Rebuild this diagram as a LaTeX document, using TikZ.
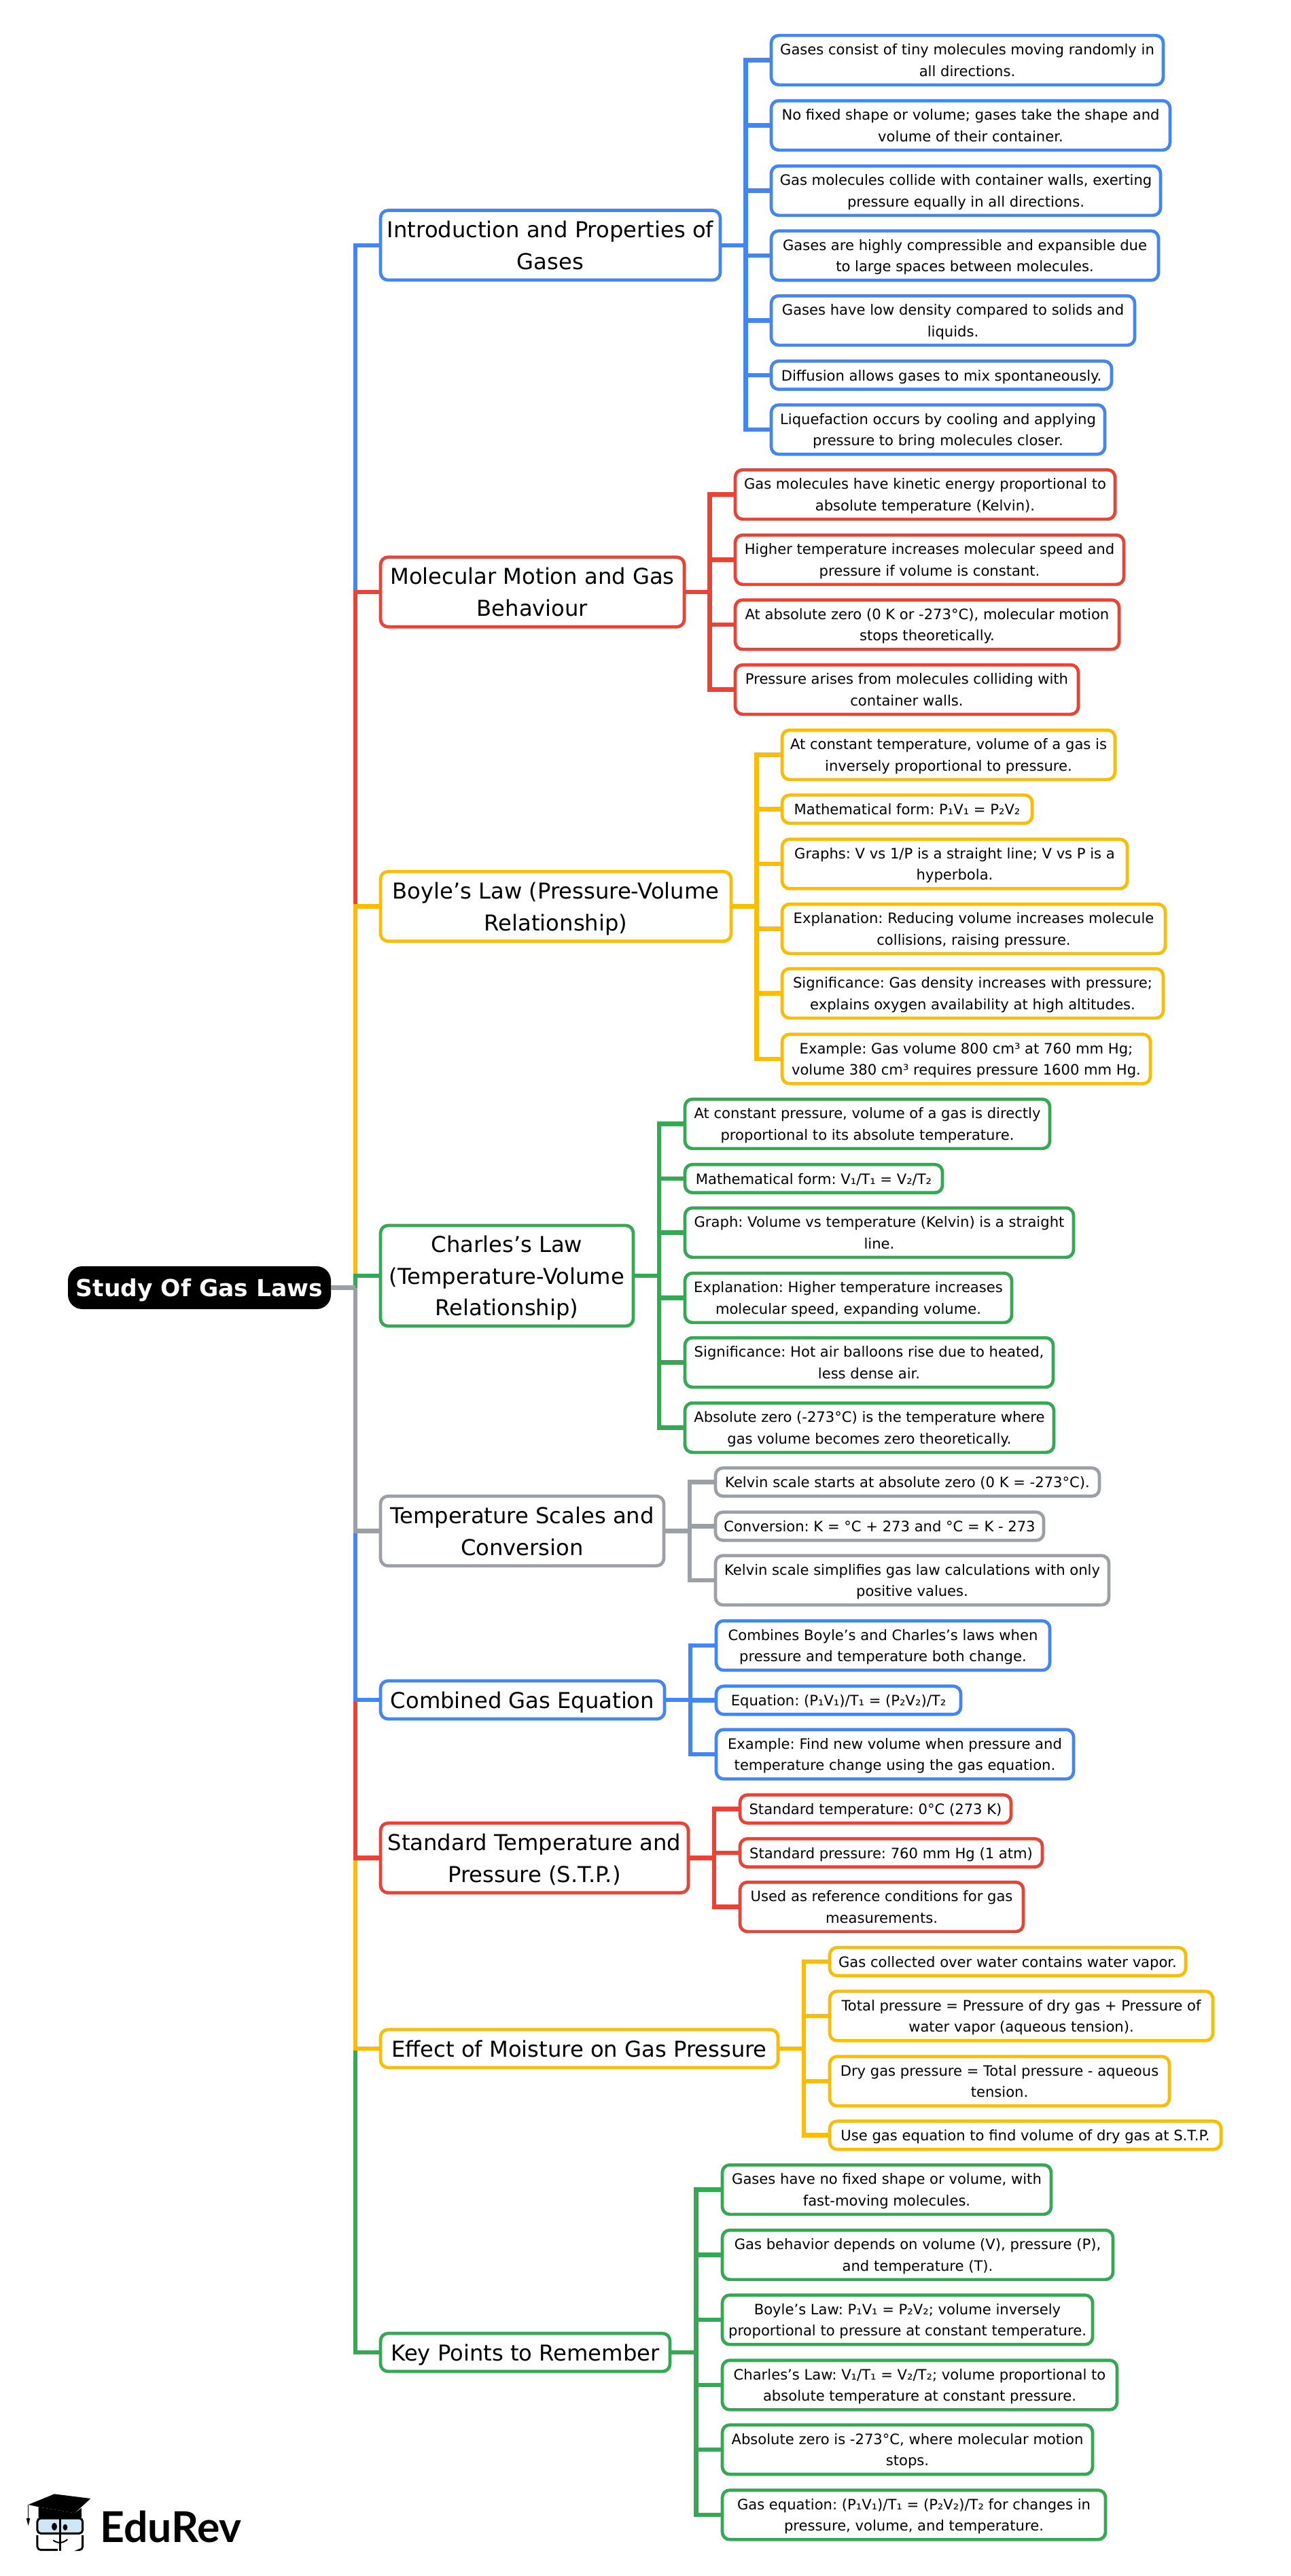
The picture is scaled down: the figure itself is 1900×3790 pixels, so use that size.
\documentclass[tikz,border=0pt]{standalone}
\usepackage{fontspec}
\setmainfont{DejaVu Sans}
\newfontfamily\logofont{Lato}
\usetikzlibrary{calc,positioning}
\frenchspacing

\definecolor{gasblue}{HTML}{4285F4}
\definecolor{gasred}{HTML}{EA4335}
\definecolor{gasyellow}{HTML}{FBBC04}
\definecolor{gasgreen}{HTML}{34A853}
\definecolor{gasgrey}{HTML}{9AA0A6}
\definecolor{gasglass}{HTML}{CFE6F7}

\tikzset{
    rootnode/.style={fill=black, text=white, rounded corners=21pt, inner sep=0pt, minimum height=63pt, text depth=0pt,
        font=\fontsize{34.5}{36}\selectfont\bfseries},
    branch/.style={draw, fill=white, line width=4.7pt, rounded corners=11pt, align=center, inner sep=0pt, text depth=0pt,
        text=black, font=\fontsize{32.2}{46.7}\selectfont},
    leaf/.style={draw, fill=white, line width=4.7pt, rounded corners=11pt, align=center, inner sep=0pt, text depth=0pt,
        text=black, minimum height=41.5pt, font=\fontsize{21.1}{31.5}\selectfont},
    tall/.style={minimum height=72.7pt},
    wire/.style={line width=6.5pt},
    elbow/.style={to path={(\tikztostart.east) -| ($(\tikztostart.east)!0.5!(\tikztotarget.west)$) |- (\tikztotarget.west)}}
}

\begin{document}
\begin{tikzpicture}[x=1pt, y=-1pt]
    \useasboundingbox (0,0) rectangle (1900,3790);

    % Root and branches
    \node [rootnode, minimum width=387pt] (root) at (293.5,1894.5) {Study Of Gas Laws};
    \coordinate [right=36pt of root] (hub);

    \node [branch, draw=gasblue, minimum width=500pt, minimum height=102.5pt] (intro) at (810,360.8) {Introduction and Properties of\\Gases};
    \node [branch, draw=gasred, minimum width=447pt, minimum height=102.5pt] (motion) at (783.5,871) {Molecular Motion and Gas\\Behaviour};
    \node [branch, draw=gasyellow, minimum width=516pt, minimum height=102.5pt] (boyle) at (818,1333.5) {Boyle’s Law (Pressure-Volume\\Relationship)};
    \node [branch, draw=gasgreen, minimum width=372pt, minimum height=148pt] (charles) at (746,1877) {Charles’s Law\\(Temperature-Volume\\Relationship)};
    \node [branch, draw=gasgrey, minimum width=417pt, minimum height=102.5pt] (scales) at (768.5,2252.5) {Temperature Scales and\\Conversion};
    \node [branch, draw=gasblue, minimum width=418pt, minimum height=56pt] (combined) at (769,2501) {Combined Gas Equation};
    \node [branch, draw=gasred, minimum width=453pt, minimum height=102.5pt] (stp) at (786.5,2733.5) {Standard Temperature and\\Pressure (S.T.P.)};
    \node [branch, draw=gasyellow, minimum width=585pt, minimum height=56pt] (moisture) at (852.5,3014) {Effect of Moisture on Gas Pressure};
    \node [branch, draw=gasgreen, minimum width=426pt, minimum height=56pt] (keypoints) at (773,3461) {Key Points to Remember};

    % Introduction leaves
    \node [leaf, tall, draw=gasblue, minimum width=577pt] (i1) at (1423.5,88.5) {Gases consist of tiny molecules moving randomly in\\all directions.};
    \node [leaf, tall, draw=gasblue, minimum width=587pt] (i2) at (1428.5,184.5) {No fixed shape or volume; gases take the shape and\\volume of their container.};
    \node [leaf, tall, draw=gasblue, minimum width=573pt] (i3) at (1421.5,280.5) {Gas molecules collide with container walls, exerting\\pressure equally in all directions.};
    \node [leaf, tall, draw=gasblue, minimum width=570pt] (i4) at (1420,376) {Gases are highly compressible and expansible due\\to large spaces between molecules.};
    \node [leaf, tall, draw=gasblue, minimum width=535pt] (i5) at (1402.5,471.5) {Gases have low density compared to solids and\\liquids.};
    \node [leaf, draw=gasblue, minimum width=501pt] (i6) at (1385.5,552) {Diffusion allows gases to mix spontaneously.};
    \node [leaf, tall, draw=gasblue, minimum width=491pt] (i7) at (1380.5,632) {Liquefaction occurs by cooling and applying\\pressure to bring molecules closer.};

    % Molecular motion leaves
    \node [leaf, tall, draw=gasred, minimum width=559pt] (m1) at (1361.5,727.5) {Gas molecules have kinetic energy proportional to\\absolute temperature (Kelvin).};
    \node [leaf, tall, draw=gasred, minimum width=572pt] (m2) at (1368,823.5) {Higher temperature increases molecular speed and\\pressure if volume is constant.};
    \node [leaf, tall, draw=gasred, minimum width=565pt] (m3) at (1364.5,919) {At absolute zero (0 K or -273°C), molecular motion\\stops theoretically.};
    \node [leaf, tall, draw=gasred, minimum width=505pt] (m4) at (1334.5,1014.5) {Pressure arises from molecules colliding with\\container walls.};

    % Boyle leaves
    \node [leaf, tall, draw=gasyellow, minimum width=490pt] (b1) at (1396,1110.5) {At constant temperature, volume of a gas is\\inversely proportional to pressure.};
    \node [leaf, draw=gasyellow, minimum width=368pt] (b2) at (1335,1190.5) {Mathematical form: P₁V₁ = P₂V₂};
    \node [leaf, tall, draw=gasyellow, minimum width=508pt] (b3) at (1405,1271) {Graphs: V vs 1/P is a straight line; V vs P is a\\hyperbola.};
    \node [leaf, tall, draw=gasyellow, minimum width=564pt] (b4) at (1433,1366.5) {Explanation: Reducing volume increases molecule\\collisions, raising pressure.};
    \node [leaf, tall, draw=gasyellow, minimum width=561pt] (b5) at (1431.5,1461.5) {Significance: Gas density increases with pressure;\\explains oxygen availability at high altitudes.};
    \node [leaf, tall, draw=gasyellow, minimum width=542pt] (b6) at (1422,1558) {Example: Gas volume 800 cm³ at 760 mm Hg;\\volume 380 cm³ requires pressure 1600 mm Hg.};

    % Charles leaves
    \node [leaf, tall, draw=gasgreen, minimum width=537pt] (c1) at (1276.5,1653.5) {At constant pressure, volume of a gas is directly\\proportional to its absolute temperature.};
    \node [leaf, draw=gasgreen, minimum width=379pt] (c2) at (1197.5,1734) {Mathematical form: V₁/T₁ = V₂/T₂};
    \node [leaf, tall, draw=gasgreen, minimum width=572pt] (c3) at (1294,1813.5) {Graph: Volume vs temperature (Kelvin) is a straight\\line.};
    \node [leaf, tall, draw=gasgreen, minimum width=481pt] (c4) at (1248.5,1909.5) {Explanation: Higher temperature increases\\molecular speed, expanding volume.};
    \node [leaf, tall, draw=gasgreen, minimum width=542pt] (c5) at (1279,2004.5) {Significance: Hot air balloons rise due to heated,\\less dense air.};
    \node [leaf, tall, draw=gasgreen, minimum width=543pt] (c6) at (1279.5,2100.5) {Absolute zero (-273°C) is the temperature where\\gas volume becomes zero theoretically.};

    % Temperature scale leaves
    \node [leaf, draw=gasgrey, minimum width=565pt] (t1) at (1335.5,2180.5) {Kelvin scale starts at absolute zero (0 K = -273°C).};
    \node [leaf, draw=gasgrey, minimum width=483pt] (t2) at (1294.5,2245.5) {Conversion: K = °C + 273 and °C = K - 273};
    \node [leaf, tall, draw=gasgrey, minimum width=579pt] (t3) at (1342.5,2325) {Kelvin scale simplifies gas law calculations with only\\positive values.};

    % Combined equation leaves
    \node [leaf, tall, draw=gasblue, minimum width=491pt] (e1) at (1299.5,2421) {Combines Boyle’s and Charles’s laws when\\pressure and temperature both change.};
    \node [leaf, draw=gasblue, minimum width=360pt] (e2) at (1234,2501.5) {Equation: (P₁V₁)/T₁ = (P₂V₂)/T₂};
    \node [leaf, tall, draw=gasblue, minimum width=526pt] (e3) at (1317,2581) {Example: Find new volume when pressure and\\temperature change using the gas equation.};

    % S.T.P. leaves
    \node [leaf, draw=gasred, minimum width=399pt] (s1) at (1288.5,2661.5) {Standard temperature: 0°C (273 K)};
    \node [leaf, draw=gasred, minimum width=445pt] (s2) at (1311.5,2726) {Standard pressure: 760 mm Hg (1 atm)};
    \node [leaf, tall, draw=gasred, minimum width=417pt] (s3) at (1297.5,2805.5) {Used as reference conditions for gas\\measurements.};

    % Moisture leaves
    \node [leaf, draw=gasyellow, minimum width=524pt] (d1) at (1483,2886) {Gas collected over water contains water vapor.};
    \node [leaf, tall, draw=gasyellow, minimum width=564pt] (d2) at (1503,2966) {Total pressure = Pressure of dry gas + Pressure of\\water vapor (aqueous tension).};
    \node [leaf, tall, draw=gasyellow, minimum width=500pt] (d3) at (1471,3062) {Dry gas pressure = Total pressure - aqueous\\tension.};
    \node [leaf, draw=gasyellow, minimum width=576pt] (d4) at (1509,3141.5) {Use gas equation to find volume of dry gas at S.T.P.};

    % Key point leaves
    \node [leaf, tall, draw=gasgreen, minimum width=484pt] (k1) at (1305,3221.5) {Gases have no fixed shape or volume, with\\fast-moving molecules.};
    \node [leaf, tall, draw=gasgreen, minimum width=575pt] (k2) at (1350.5,3317.5) {Gas behavior depends on volume (V), pressure (P),\\and temperature (T).};
    \node [leaf, tall, draw=gasgreen, minimum width=545pt] (k3) at (1335.5,3413) {Boyle’s Law: P₁V₁ = P₂V₂; volume inversely\\proportional to pressure at constant temperature.};
    \node [leaf, tall, draw=gasgreen, minimum width=581pt] (k4) at (1353.5,3509) {Charles’s Law: V₁/T₁ = V₂/T₂; volume proportional to\\absolute temperature at constant pressure.};
    \node [leaf, tall, draw=gasgreen, minimum width=545pt] (k5) at (1335.5,3604) {Absolute zero is -273°C, where molecular motion\\stops.};
    \node [leaf, tall, draw=gasgreen, minimum width=564pt] (k6) at (1345,3700) {Gas equation: (P₁V₁)/T₁ = (P₂V₂)/T₂ for changes in\\pressure, volume, and temperature.};

    % Main trunk, outermost branch first
    \draw [wire, gasblue]   (motion.west -| hub) |- (intro.west);
    \draw [wire, gasred]    (boyle.west -| hub) |- (motion.west);
    \draw [wire, gasyellow] (charles.west -| hub) |- (boyle.west);
    \draw [wire, gasgreen]  (hub) |- (charles.west);
    \draw [wire, gasgreen]  (moisture.west -| hub) |- (keypoints.west);
    \draw [wire, gasyellow] (stp.west -| hub) |- (moisture.west);
    \draw [wire, gasred]    (combined.west -| hub) |- (stp.west);
    \draw [wire, gasblue]   (scales.west -| hub) |- (combined.west);
    \draw [wire, gasgrey]   (hub) |- (scales.west);
    \draw [wire, gasgrey]   (root) -- (hub);

    % Paths
    \path [wire, gasblue] (intro) edge [elbow] (i1);
    \path [wire, gasblue] (intro) edge [elbow] (i2);
    \path [wire, gasblue] (intro) edge [elbow] (i3);
    \path [wire, gasblue] (intro) edge [elbow] (i4);
    \path [wire, gasblue] (intro) edge [elbow] (i5);
    \path [wire, gasblue] (intro) edge [elbow] (i6);
    \path [wire, gasblue] (intro) edge [elbow] (i7);

    \path [wire, gasred] (motion) edge [elbow] (m1);
    \path [wire, gasred] (motion) edge [elbow] (m2);
    \path [wire, gasred] (motion) edge [elbow] (m3);
    \path [wire, gasred] (motion) edge [elbow] (m4);

    \path [wire, gasyellow] (boyle) edge [elbow] (b1);
    \path [wire, gasyellow] (boyle) edge [elbow] (b2);
    \path [wire, gasyellow] (boyle) edge [elbow] (b3);
    \path [wire, gasyellow] (boyle) edge [elbow] (b4);
    \path [wire, gasyellow] (boyle) edge [elbow] (b5);
    \path [wire, gasyellow] (boyle) edge [elbow] (b6);

    \path [wire, gasgreen] (charles) edge [elbow] (c1);
    \path [wire, gasgreen] (charles) edge [elbow] (c2);
    \path [wire, gasgreen] (charles) edge [elbow] (c3);
    \path [wire, gasgreen] (charles) edge [elbow] (c4);
    \path [wire, gasgreen] (charles) edge [elbow] (c5);
    \path [wire, gasgreen] (charles) edge [elbow] (c6);

    \path [wire, gasgrey] (scales) edge [elbow] (t1);
    \path [wire, gasgrey] (scales) edge [elbow] (t2);
    \path [wire, gasgrey] (scales) edge [elbow] (t3);

    \path [wire, gasblue] (combined) edge [elbow] (e1);
    \path [wire, gasblue] (combined) edge [elbow] (e2);
    \path [wire, gasblue] (combined) edge [elbow] (e3);

    \path [wire, gasred] (stp) edge [elbow] (s1);
    \path [wire, gasred] (stp) edge [elbow] (s2);
    \path [wire, gasred] (stp) edge [elbow] (s3);

    \path [wire, gasyellow] (moisture) edge [elbow] (d1);
    \path [wire, gasyellow] (moisture) edge [elbow] (d2);
    \path [wire, gasyellow] (moisture) edge [elbow] (d3);
    \path [wire, gasyellow] (moisture) edge [elbow] (d4);

    \path [wire, gasgreen] (keypoints) edge [elbow] (k1);
    \path [wire, gasgreen] (keypoints) edge [elbow] (k2);
    \path [wire, gasgreen] (keypoints) edge [elbow] (k3);
    \path [wire, gasgreen] (keypoints) edge [elbow] (k4);
    \path [wire, gasgreen] (keypoints) edge [elbow] (k5);
    \path [wire, gasgreen] (keypoints) edge [elbow] (k6);

    % Logo
    \node [font=\fontsize{62.5}{64}\selectfont\logofont\bfseries, inner sep=0pt, anchor=base west] (edurev) at (147,3740) {EduRev};
    \begin{scope}[shift={(0,3590)}, x=0.3333pt, y=-0.3333pt]
        \fill [black] (125,285) -- (240,238) -- (400,258) -- (330,322) -- (170,295) -- cycle;
        \fill [black] (170,295) -- (330,322) -- (360,300) -- (360,342) -- (170,342) -- cycle;
        \draw [line width=1.5pt] (125,285) -- (125,345);
        \fill [black] (116,345) -- (133,345) -- (125,378) -- cycle;
        \draw [fill=gasglass, line width=3pt, rounded corners=5pt] (165,345) rectangle (365,412);
        \draw [line width=3pt, rounded corners=5pt] (165,420) -- (165,485) -- (255,485);
        \draw [line width=3pt, rounded corners=5pt] (365,420) -- (365,485) -- (355,485);
        \draw [line width=3pt] (265,340) -- (265,488);
        \fill [black] (240,382) ellipse [x radius=12, y radius=17];
        \fill [black] (288,385) ellipse [x radius=10, y radius=14];
        \draw [line width=2pt] (235,442) .. controls (255,458) and (280,455) .. (298,438);
    \end{scope}
\end{tikzpicture}
\end{document}
